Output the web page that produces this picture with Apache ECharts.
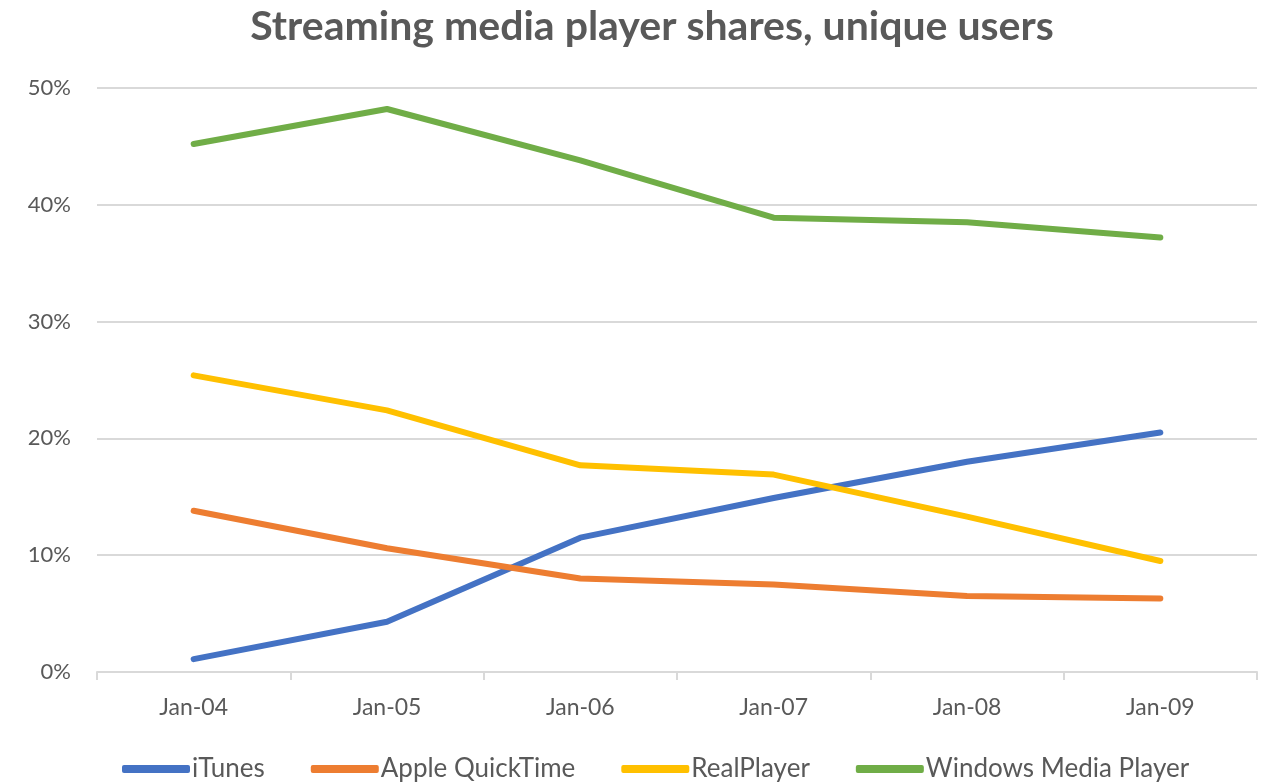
<!DOCTYPE html>
<html><head><meta charset="utf-8">
<script src="https://cdn.jsdelivr.net/npm/echarts@6/dist/echarts.min.js"></script>
<style>html,body{margin:0;padding:0;background:#fff}#c{width:1271px;height:783px}</style>
</head><body><div id="c"></div>
<script>
const categories = ['Jan-04','Jan-05','Jan-06','Jan-07','Jan-08','Jan-09'];
const iTunes = [1.1, 4.3, 11.5, 14.9, 18.0, 20.5];
const quickTime = [13.8, 10.6, 8.0, 7.5, 6.5, 6.3];
const realPlayer = [25.4, 22.4, 17.7, 16.9, 13.3, 9.5];
const wmp = [45.2, 48.2, 43.8, 38.9, 38.5, 37.2];
const seriesNames = ['iTunes','Apple QuickTime','RealPlayer','Windows Media Player'];
const colors = ['#4472C4','#ED7D31','#FFC000','#70AD47'];
const values = [iTunes, quickTime, realPlayer, wmp];

const chart = echarts.init(document.getElementById('c'));
const font = 'Lato, "Open Sans", sans-serif';
chart.setOption({
  animation: false,
  color: colors,
  title: {
    text: 'Streaming media player shares, unique users',
    left: 647, top: 1, textAlign: 'center',
    textStyle: {fontFamily: font, fontSize: 41, fontWeight: 'bold', color: '#595959'}
  },
  legend: {
    bottom: -4, left: 117,
    itemWidth: 68, itemHeight: 8, itemGap: 46,
    icon: 'roundRect',
    textStyle: {fontFamily: font, fontSize: 26, color: '#595959', padding: [0,0,0,-3]},
    data: seriesNames
  },
  grid: {left: 97, right: 14, top: 88, bottom: 111, containLabel: false},
  xAxis: {
    type: 'category', data: categories, boundaryGap: true,
    axisLine: {lineStyle: {color: '#D9D9D9', width: 2}},
    axisTick: {show: true, length: 8, lineStyle: {color: '#D9D9D9', width: 2}},
    axisLabel: {fontFamily: font, fontSize: 23, color: '#595959', margin: 24}
  },
  yAxis: {
    type: 'value', min: 0, max: 50, interval: 10,
    axisLine: {show: false}, axisTick: {show: false},
    splitLine: {lineStyle: {color: '#D9D9D9', width: 2}},
    axisLabel: {fontFamily: font, fontSize: 22, color: '#595959', margin: 26, formatter: v => v + '%'}
  },
  series: values.map((d, i) => ({
    name: seriesNames[i], type: 'line', data: d,
    symbol: 'none', lineStyle: {width: 6, color: colors[i], cap: 'round', join: 'round'},
    itemStyle: {color: colors[i]}
  }))
});
</script></body></html>
